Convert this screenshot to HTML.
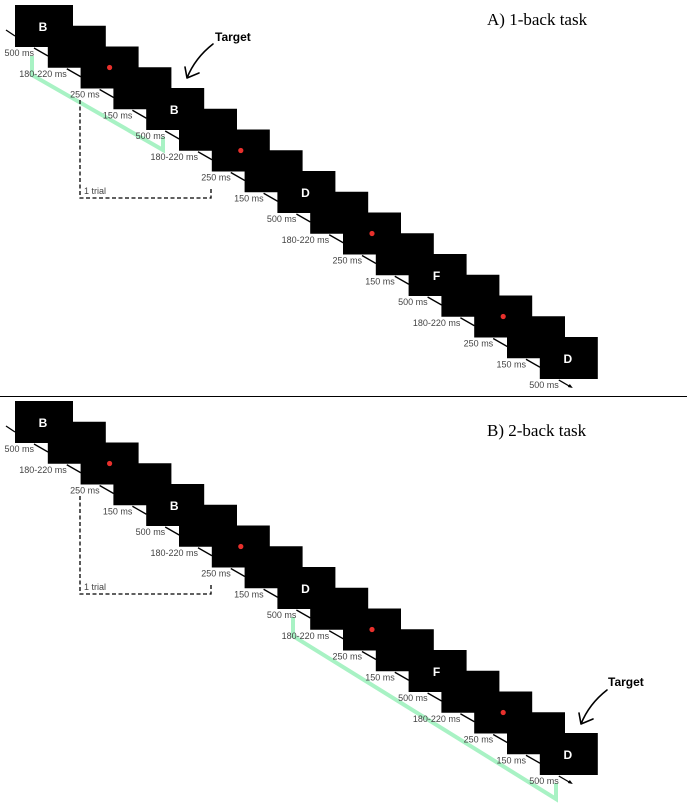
<!DOCTYPE html>
<html><head><meta charset="utf-8">
<style>
html,body{margin:0;padding:0;background:#fff;}
svg{display:block;}
.lbl{font-family:"Liberation Sans",sans-serif;font-size:9px;fill:#444;}
.let{font-family:"Liberation Sans",sans-serif;font-size:12px;font-weight:bold;fill:#fff;}
.ttl{font-family:"Liberation Serif",serif;font-size:17px;fill:#000;}
.tgt{font-family:"Liberation Sans",sans-serif;font-size:12px;font-weight:bold;fill:#000;}
</style></head>
<body>
<svg id="fig" width="687" height="806" viewBox="0 0 687 806" xmlns="http://www.w3.org/2000/svg">
<path d="M32,56 V75 L163,150 V137" fill="none" stroke="#a8f2c4" stroke-width="4"/>
<path d="M293,617 V636 L556,799 V783" fill="none" stroke="#a8f2c4" stroke-width="4"/>
<line x1="0" y1="396.5" x2="687" y2="396.5" stroke="#000" stroke-width="1"/>
<text class="ttl" x="487" y="25">A) 1-back task</text>
<text class="ttl" x="487" y="436">B) 2-back task</text>
</svg>
<script>
const stimuli = ["B","","dot","","B","","dot","","D","","dot","","F","","dot","","D"];
const durations = ["500 ms","180-220 ms","250 ms","150 ms"];
const panelTops = [5, 401];
const NS = "http://www.w3.org/2000/svg";
const svg = document.getElementById("fig");
const W = 58, H = 42, DX = 32.8, DY = 20.75;
function mk(tag, attrs, parent){ const e = document.createElementNS(NS, tag); for (const k in attrs) e.setAttribute(k, attrs[k]); (parent||svg).appendChild(e); return e; }

panelTops.forEach((top, p) => {
  const g = mk("g", {});
  
  
  const l0 = mk("line", {x1: 6, y1: top + 25, x2: 15, y2: top + 31, stroke: "#000", "stroke-width": 1.3}, g);
  
  
  stimuli.forEach((s, i) => {
    const x = 15 + i * DX, y = top + i * DY;
    const last = i === stimuli.length - 1;
    const seg = mk("line", {x1: x + 19, y1: y + H + 1, x2: x + (last ? 31 : 33), y2: y + H + (last ? 8 : 9), stroke: "#000", "stroke-width": 1.3}, g);
    
    
    if (last) {
      const ah = mk("path", {d: `M${x+33},${y+H+9} l-5,-1 l2,-3 z`, fill: "#000"}, g);
      
      
    }
    const r = mk("rect", {x: x, y: y, width: W, height: H, fill: "#000"}, g);
    
    
    if (s === "dot") {
      const c = mk("circle", {cx: x + 29, cy: y + 21, r: 2.6, fill: "#e8302c"}, g);
      
      
    } else if (s) {
      const t = mk("text", {x: x + 28, y: y + 26, "text-anchor": "middle", class: "let"}, g);
      t.textContent = s;
      
      
    }
    const lt = mk("text", {x: x + 19, y: y + H + 9, "text-anchor": "end", class: "lbl"}, g);
    lt.textContent = durations[i % durations.length];
    
    
  });
  const d = mk("path", {d: `M80,${top+95} V${top+193} H211 V${top+183}`, fill: "none", stroke: "#000", "stroke-width": 1.3, "stroke-dasharray": "4,2.5"}, g);
  
  
  const tt = mk("text", {x: 84, y: top + 189, class: "lbl"}, g);
  tt.textContent = "1 trial";
  
  
});

function target(tx, ty, ax, ay, name){
  const t = mk("text", {x: tx, y: ty, class: "tgt"});
  t.textContent = "Target";
  
  
  const p = mk("path", {d: `M${ax+26},${ay-34} Q${ax+8},${ay-20} ${ax},${ay} M${ax},${ay} L${ax-2},${ay-11} M${ax},${ay} L${ax+12},${ay-5}`, fill: "none", stroke: "#000", "stroke-width": 1.6, "stroke-linecap": "round"});
  
  
}
target(215, 41, 187, 78, "target-1-back");
target(608, 686, 581, 724, "target-2-back");
</script>
</body></html>
